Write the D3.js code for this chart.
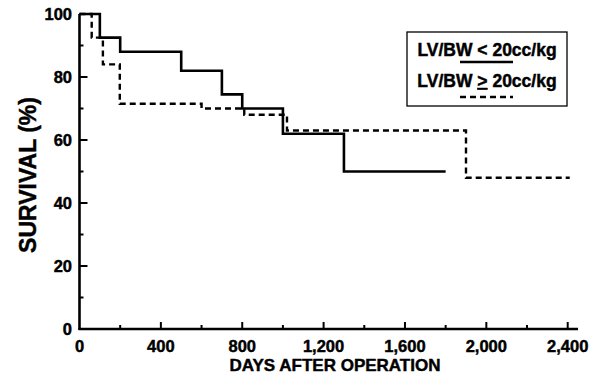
<!DOCTYPE html>
<html>
<head>
<meta charset="utf-8">
<script src="https://cdn.jsdelivr.net/npm/d3@7"></script>
<style>
  body { margin: 0; background: #fff; }
  text { font-family: "Liberation Sans", Arial, sans-serif; font-weight: bold; fill: #000; stroke: #000; stroke-width: 0.45px; }
</style>
</head>
<body>
<div id="chart"></div>
<script>
// survival steps: [day, percent]
var lowDays   = [0, 100, 200, 500, 700, 800, 1000, 1300, 1800];
var lowSurv   = [100, 92.5, 88, 82, 74.5, 70, 62, 50, 50];
var highDays  = [0, 60, 115, 198, 600, 810, 1020, 1900, 2410];
var highSurv  = [100, 92.5, 84, 71.5, 70, 68, 63, 48, 48];

var xMajor = [0, 400, 800, 1200, 1600, 2000, 2400];
var xMinor = [200, 600, 1000, 1400, 1800, 2200];
var yMajor = [0, 20, 40, 60, 80, 100];
var yMinor = [10, 30, 50, 70, 90];

var width = 590, height = 376;

var x = d3.scaleLinear().domain([0, 2400]).range([79.5, 567.7]);
var y = d3.scaleLinear().domain([0, 100]).range([329, 14]);

var svg = d3.select("#chart").append("svg")
    .attr("width", width)
    .attr("height", height);

function toPts(days, vals) {
  return days.map(function(d, i) { return [d, vals[i]]; });
}

var line = d3.line()
    .x(function(d) { return x(d[0]); })
    .y(function(d) { return y(d[1]); })
    .curve(d3.curveStepAfter);

// axes
var ax = svg.append("g");
ax.append("line")
    .attr("x1", x(0)).attr("x2", x(0))
    .attr("y1", y(100)).attr("y2", y(0) + 1)
    .attr("stroke", "#000").attr("stroke-width", 2.6);
ax.append("line")
    .attr("x1", x(0) - 1).attr("x2", 578)
    .attr("y1", y(0)).attr("y2", y(0))
    .attr("stroke", "#000").attr("stroke-width", 2.6);

ax.selectAll(".ymaj").data(yMajor).enter().append("line")
    .attr("x1", x(0)).attr("x2", x(0) + 8)
    .attr("y1", function(d) { return y(d); }).attr("y2", function(d) { return y(d); })
    .attr("stroke", "#000").attr("stroke-width", 2);
ax.selectAll(".ymin").data(yMinor).enter().append("line")
    .attr("x1", x(0)).attr("x2", x(0) + 4)
    .attr("y1", function(d) { return y(d); }).attr("y2", function(d) { return y(d); })
    .attr("stroke", "#000").attr("stroke-width", 2);
ax.selectAll(".xmaj").data(xMajor.slice(1)).enter().append("line")
    .attr("x1", function(d) { return x(d); }).attr("x2", function(d) { return x(d); })
    .attr("y1", y(0)).attr("y2", y(0) - 7)
    .attr("stroke", "#000").attr("stroke-width", 2);
ax.selectAll(".xmin").data(xMinor).enter().append("line")
    .attr("x1", function(d) { return x(d); }).attr("x2", function(d) { return x(d); })
    .attr("y1", y(0)).attr("y2", y(0) - 4)
    .attr("stroke", "#000").attr("stroke-width", 2);

var fmt = d3.format(",");
ax.selectAll(".xl").data(xMajor).enter().append("text")
    .attr("x", function(d) { return x(d); })
    .attr("y", 352)
    .attr("text-anchor", "middle")
    .style("font-size", "16.5px")
    .text(function(d) { return fmt(d); });
ax.selectAll(".yl").data(yMajor).enter().append("text")
    .attr("x", 72)
    .attr("y", function(d) { return y(d) + 6; })
    .attr("text-anchor", "end")
    .style("font-size", "16.5px")
    .text(function(d) { return d; });

svg.append("text")
    .attr("x", 335).attr("y", 371)
    .attr("text-anchor", "middle")
    .style("font-size", "17px")
    .text("DAYS AFTER OPERATION");

svg.append("text")
    .attr("transform", "translate(36,175) rotate(-90)")
    .attr("text-anchor", "middle")
    .style("font-size", "23px")
    .text("SURVIVAL (%)");

// curves
svg.append("path")
    .datum(toPts(highDays, highSurv))
    .attr("d", line)
    .attr("fill", "none")
    .attr("stroke", "#000")
    .attr("stroke-width", 2.4)
    .attr("stroke-dasharray", "6,4");
svg.append("path")
    .datum(toPts(lowDays, lowSurv))
    .attr("d", line)
    .attr("fill", "none")
    .attr("stroke", "#000")
    .attr("stroke-width", 2.6);

// legend
var lg = svg.append("g");
lg.append("rect")
    .attr("x", 407).attr("y", 32)
    .attr("width", 160).attr("height", 74)
    .attr("fill", "#fff").attr("stroke", "#000").attr("stroke-width", 1.3);
lg.append("text")
    .attr("x", 487).attr("y", 56)
    .attr("text-anchor", "middle")
    .style("font-size", "17.5px")
    .text("LV/BW < 20cc/kg");
lg.append("line")
    .attr("x1", 460).attr("x2", 513).attr("y1", 62).attr("y2", 62)
    .attr("stroke", "#000").attr("stroke-width", 2.4);
var t2 = lg.append("text")
    .attr("x", 487).attr("y", 87)
    .attr("text-anchor", "middle")
    .style("font-size", "17.5px");
t2.append("tspan").text("LV/BW ");
t2.append("tspan").style("text-decoration", "underline").text(">");
t2.append("tspan").text(" 20cc/kg");
lg.append("line")
    .attr("x1", 460).attr("x2", 513).attr("y1", 97).attr("y2", 97)
    .attr("stroke", "#000").attr("stroke-width", 2.4)
    .attr("stroke-dasharray", "6,4");
</script>
</body>
</html>
